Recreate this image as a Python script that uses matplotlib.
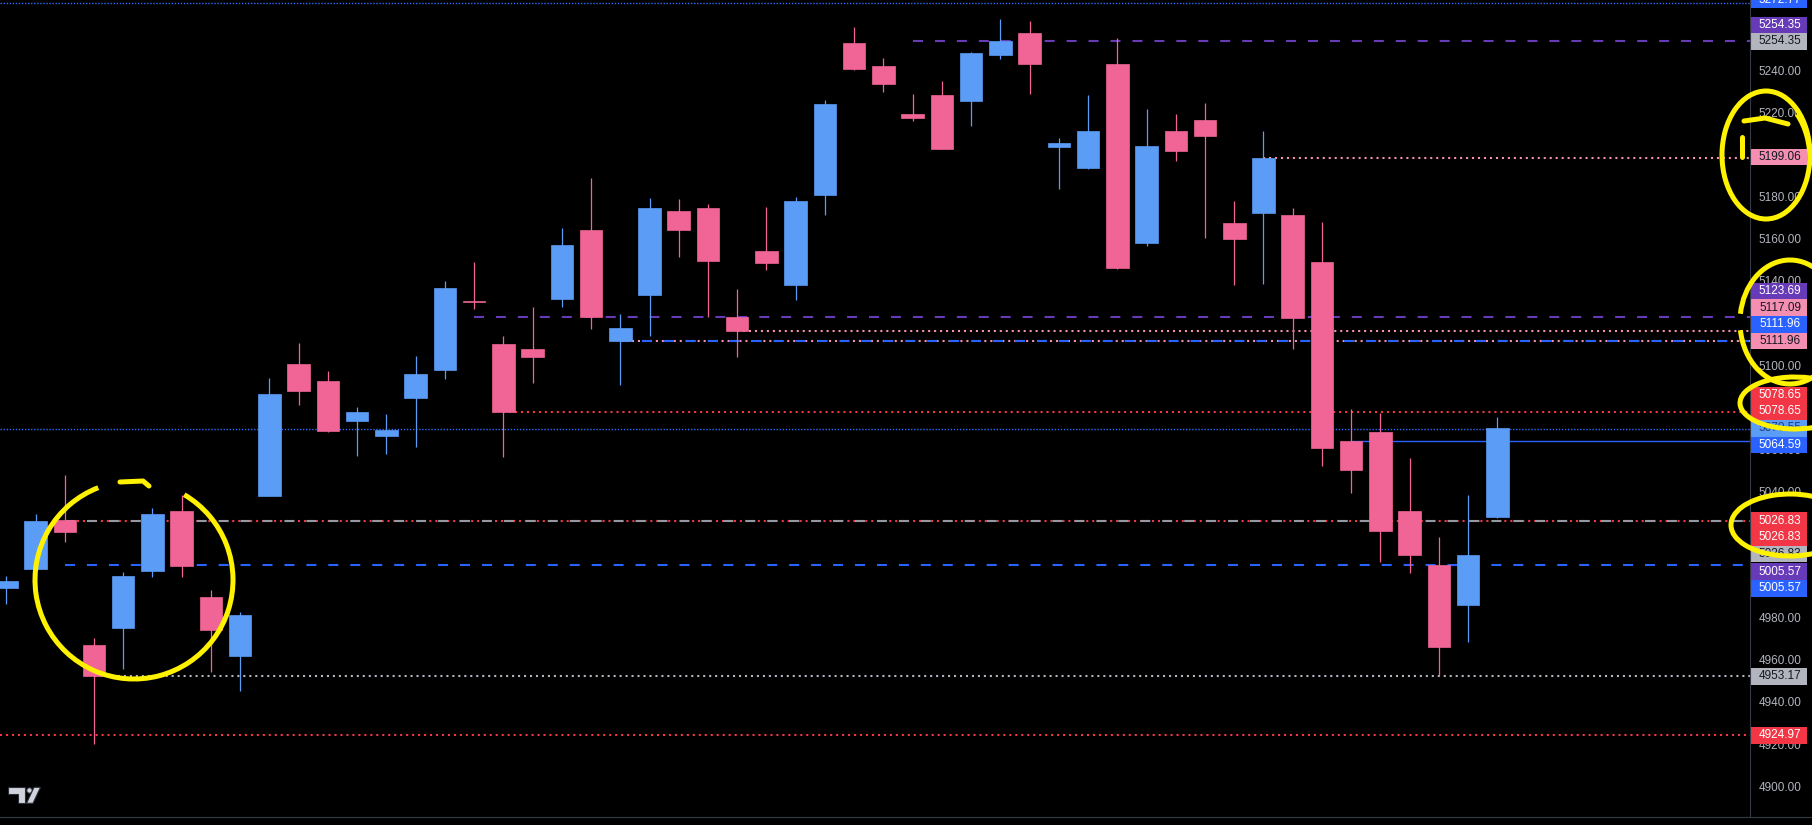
import matplotlib
matplotlib.use("Agg")
import matplotlib.pyplot as plt
from matplotlib.patches import Rectangle, Arc, Ellipse, Polygon, Circle
from matplotlib.lines import Line2D

plt.rcParams['font.family'] = ['Liberation Sans', 'DejaVu Sans']
plt.rcParams['lines.scale_dashes'] = False

# --- candles ---
opens = [4995.0, 5004.0, 5027.1, 4967.8, 4976.0, 5003.1, 5031.4, 4990.8, 4962.7, 5038.7,
         5101.2, 5093.1, 5074.3, 5067.2, 5085.2, 5098.5, 5131.1, 5110.7, 5108.3, 5132.2,
         5164.8, 5111.9, 5134.1, 5173.9, 5175.3, 5123.5, 5154.9, 5138.9, 5181.6, 5253.6,
         5242.7, 5220.0, 5228.9, 5226.2, 5248.1, 5258.4, 5204.4, 5194.4, 5243.8, 5158.8,
         5211.8, 5217.1, 5168.2, 5173.0, 5172.0, 5149.6, 5064.6, 5068.9, 5031.4, 5005.6,
         4986.9, 5028.7]
highs = [5000.5, 5030.0, 5048.5, 4971.0, 5002.4, 5032.7, 5039.0, 4993.9, 4983.4, 5094.6,
         5111.2, 5097.9, 5080.8, 5077.5, 5105.0, 5140.6, 5149.6, 5114.5, 5128.3, 5165.8,
         5189.5, 5124.9, 5180.0, 5179.6, 5177.2, 5136.8, 5175.8, 5180.5, 5226.6, 5261.2,
         5246.5, 5229.4, 5235.6, 5249.4, 5265.0, 5264.1, 5208.5, 5228.9, 5256.0, 5222.3,
         5219.9, 5225.1, 5178.6, 5211.8, 5175.3, 5168.6, 5079.8, 5078.0, 5056.6, 5019.1,
         5039.0, 5076.0]
lows = [4987.4, 5000.5, 5016.8, 4920.6, 4956.5, 5000.3, 5000.3, 4955.1, 4946.1, 5038.5,
        5081.7, 5069.1, 5057.7, 5058.6, 5061.9, 5094.2, 5127.5, 5057.2, 5092.3, 5128.4,
        5118.0, 5091.4, 5114.6, 5152.2, 5123.7, 5104.7, 5146.0, 5131.7, 5172.1, 5240.8,
        5230.5, 5216.7, 5203.2, 5214.4, 5246.2, 5229.6, 5184.4, 5194.0, 5146.5, 5157.4,
        5197.7, 5161.2, 5138.9, 5139.3, 5108.5, 5052.9, 5040.1, 5007.3, 5002.1, 4953.2,
        4969.3, 5028.2]
closes = [4998.2, 5026.7, 5021.6, 4953.2, 5000.5, 5030.0, 5005.4, 4975.0, 4982.0, 5087.0,
          5088.5, 5069.5, 5078.4, 5069.9, 5096.5, 5137.3, 5130.8, 5078.6, 5104.7, 5157.7,
          5123.7, 5118.3, 5175.3, 5165.0, 5150.3, 5117.0, 5149.3, 5178.6, 5224.7, 5241.3,
          5234.3, 5218.2, 5203.4, 5248.9, 5254.4, 5243.8, 5206.1, 5211.8, 5146.9, 5204.7,
          5202.5, 5209.6, 5160.7, 5199.1, 5123.2, 5061.5, 5051.0, 5022.1, 5010.7, 4967.0,
          5010.5, 5070.6]

# --- horizontal levels ---
level_prices = [5272.77, 5254.35, 5199.06, 5123.69, 5117.09, 5111.96, 5111.96, 5078.65,
                5070.55, 5064.59, 5026.83, 5026.83, 5005.57, 4953.17, 4924.97]
level_start = [None, 31, 43, 16, 25, 21, 21, 17, None, 46, 2, 2, 2, 3, None]
level_kinds = ['blue_dot', 'purple_dash', 'pink_dot', 'purple_dash', 'pink_dot', 'pink_dot',
               'blue_dash', 'red_dot', 'blue_dot', 'blue_solid', 'red_dot', 'gray_dash',
               'blue_dash', 'gray_dot', 'red_dot']

# --- price scale tags ---
tag_values = [5272.77, 5254.35, 5254.35, 5199.06, 5123.69, 5117.09, 5111.96, 5111.96,
              5078.65, 5078.65, 5070.55, 5064.59, 5026.83, 5026.83, 5026.83, 5005.57,
              5005.57, 4953.17, 4924.97]
tag_kinds = ['blue', 'purple', 'gray', 'pink', 'purple', 'pink', 'blue', 'pink', 'red', 'red',
             'lightblue', 'blue', 'red', 'red', 'gray', 'purple', 'blue', 'gray', 'red']
# where TradingView stacked the tags (pixels from the top)
tag_y_px = [0, 25, 41.3, 157, 291, 307.7, 324.3, 341, 395, 411.3, 428.3, 445, 520.7,
            537.3, 554, 571.7, 588.3, 676.3, 735.3]

ticks = list(range(4900, 5261, 20))

UP = '#5b9cf6'
DOWN = '#f06595'
LINE_STYLES = {
    'blue_dot': dict(color='#2f6bff', lw=1.0, dashes=(1.0, 1.2)),
    'purple_dash': dict(color='#673ab7', lw=1.5, dashes=(7.2, 8.6)),
    'pink_dot': dict(color='#f48fb1', lw=1.5, dashes=(1.5, 2.8)),
    'blue_dash': dict(color='#2962ff', lw=1.5, dashes=(7.2, 8.6)),
    'red_dot': dict(color='#f23645', lw=1.5, dashes=(1.5, 2.8)),
    'blue_solid': dict(color='#2962ff', lw=1.0, dashes=(None, None)),
    'gray_dash': dict(color='#9598a1', lw=1.5, dashes=(7.2, 8.6)),
    'gray_dot': dict(color='#b2b5be', lw=1.5, dashes=(1.5, 2.8)),
}
TAG_STYLES = {
    'blue': ('#2962ff', 'white'),
    'purple': ('#673ab7', 'white'),
    'gray': ('#b2b5be', '#131722'),
    'pink': ('#f48fb1', '#131722'),
    'red': ('#f23645', 'white'),
    'lightblue': ('#5b9cf6', '#1e3a78'),
}

W, H = 1812, 825
PLOT_W, PLOT_H = 1750, 817
YMAX, YMIN = 5274.05, 4886.1

fig = plt.figure(figsize=(W / 100, H / 100), dpi=100, facecolor='black')
ax = fig.add_axes([0, (H - PLOT_H) / H, PLOT_W / W, PLOT_H / H])
ax.set_facecolor('black')
ax.set_xlim(-0.215, 59.64)
ax.set_ylim(YMIN, YMAX)
ax.axis('off')

xs = list(range(len(opens)))
colors = [UP if c >= o else DOWN for o, c in zip(opens, closes)]
bottoms = [min(o, c) for o, c in zip(opens, closes)]
heights = [abs(c - o) for o, c in zip(opens, closes)]

# levels go under the candles
x_right = ax.get_xlim()[1]
for price, start, kind in zip(level_prices, level_start, level_kinds):
    x0 = ax.get_xlim()[0] if start is None else start
    st = LINE_STYLES[kind]
    ax.plot([x0, x_right], [price, price], color=st['color'], lw=st['lw'],
            dashes=st['dashes'], zorder=1, solid_capstyle='butt', dash_capstyle='butt')

ax.vlines(xs, lows, highs, colors=colors, lw=0.9, zorder=2)
ax.bar(xs, heights, bottom=bottoms, width=0.77, color=colors, edgecolor=colors,
       linewidth=0.5, zorder=3)

# price scale
pax = fig.add_axes([PLOT_W / W, (H - PLOT_H) / H, (W - PLOT_W) / W, PLOT_H / H])
pax.set_facecolor('black')
pax.set_xlim(0, W - PLOT_W)
pax.set_ylim(YMIN, YMAX)
pax.axis('off')
for t in ticks:
    pax.text(30, t, f"{t:.2f}", ha='center', va='center', color='#b2b5be',
             fontsize=8.5, zorder=1)


def px_to_price(y):
    return YMAX - y / PLOT_H * (YMAX - YMIN)


box_h = 16.7 / PLOT_H * (YMAX - YMIN)
for val, kind, ypx in zip(tag_values, tag_kinds, tag_y_px):
    bg, fg = TAG_STYLES[kind]
    yc = px_to_price(ypx)
    pax.add_patch(Rectangle((0, yc - box_h / 2), 56.7, box_h, facecolor=bg,
                            edgecolor='none', zorder=3))
    pax.text(30, yc, f"{val:.2f}", ha='center', va='center', color=fg,
             fontsize=8.5, zorder=4)

# frame lines
fig.add_artist(Line2D([PLOT_W / W, PLOT_W / W], [(H - PLOT_H) / H, 1],
                      color='#363a45', lw=0.8, transform=fig.transFigure))
fig.add_artist(Line2D([0, 1], [(H - PLOT_H) / H, (H - PLOT_H) / H],
                      color='#363a45', lw=0.8, transform=fig.transFigure))


def fx(x):
    return x / W


def fy(y):
    return 1 - y / H


# TradingView logo
logo_c = '#d1d4dc'
fig.add_artist(Polygon([(fx(8.3), fy(787.3)), (fx(25), fy(787.3)), (fx(25), fy(803.3)),
                        (fx(18.3), fy(803.3)), (fx(18.3), fy(794)), (fx(8.3), fy(794))],
                       closed=True, facecolor=logo_c, edgecolor='#2a2e39', lw=0.8,
                       transform=fig.transFigure))
fig.add_artist(Ellipse((fx(29.5), fy(790.5)), 5.5 / W, 5.5 / H, facecolor=logo_c,
                       edgecolor='#2a2e39', lw=0.8, transform=fig.transFigure))
fig.add_artist(Polygon([(fx(34), fy(787.3)), (fx(40.5), fy(787.3)), (fx(33), fy(803.3)),
                        (fx(26.5), fy(803.3))], closed=True, facecolor=logo_c,
                       edgecolor='#2a2e39', lw=0.8, transform=fig.transFigure))

# yellow hand drawn marks
YEL = '#fff200'
YLW = 3.6


def arc(cx, cy, w, h, t1, t2):
    fig.add_artist(Arc((fx(cx), fy(cy)), w / W, h / H, theta1=t1, theta2=t2,
                       color=YEL, lw=YLW, transform=fig.transFigure, zorder=10))


def stroke(pts):
    fig.add_artist(Line2D([fx(p[0]) for p in pts], [fy(p[1]) for p in pts], color=YEL,
                          lw=YLW, transform=fig.transFigure, zorder=10,
                          solid_capstyle='round', solid_joinstyle='round'))


arc(134, 580, 198, 198, 100, 435)
stroke([(120, 482), (143, 481), (149, 486)])

arc(1766, 155, 88, 128, 0, 360)
arc(1770, 160, 80, 124, -10, 75)
stroke([(1744, 121), (1765, 118), (1788, 124)])
stroke([(1742, 137), (1742, 157)])

arc(1790, 322, 100, 124, 40, 160)
arc(1790, 322, 100, 124, 200, 330)
arc(1795, 403, 110, 52, 74, 290)
arc(1790, 525, 118, 62, 35, 330)

fig.savefig('out.png', dpi=100, facecolor='black')
